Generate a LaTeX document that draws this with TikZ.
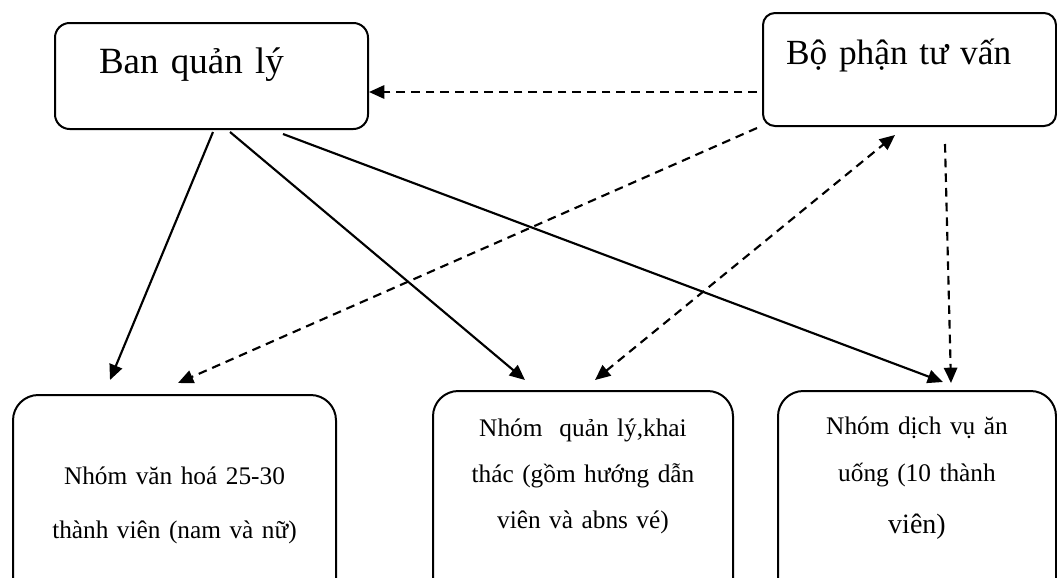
\documentclass[tikz,border=0pt]{standalone}
\usepackage{fontspec}
\setmainfont{Liberation Serif}
\usetikzlibrary{arrows.meta,calc}

\tikzset{
  box/.style={draw, line width=1.5pt, rounded corners=#1, anchor=north west, inner ysep=0pt},
  box/.default=10pt,
  link/.style={line width=1.6pt, -{Triangle[length=11.5pt,width=10pt]}},
  advice/.style={link, dash pattern=on 6.5pt off 4.5pt}
}

\begin{document}
\begin{tikzpicture}[x=0.75pt,y=-0.75pt]

    % frame of the page
    \useasboundingbox (0,0) rectangle (1057,578);
    \clip (0,0) rectangle (1057,578);

    % top boxes
    \node[box=11pt, minimum width=234.75pt, minimum height=79.5pt, inner xsep=33pt,
          text width=168.75pt, align=left, text height=20pt, text depth=24.5pt,
          font=\fontsize{27.75}{33}\selectfont] (bql) at (54,22) {Ban quản lý};
    \node[box=9pt, minimum width=219.75pt, minimum height=84.75pt, inner xsep=17.25pt,
          text width=185.25pt, align=left, text height=19pt, text depth=27.25pt,
          font=\fontsize{26.5}{32}\selectfont] (tuvan) at (762,12) {Bộ phận tư vấn};

    % bottom boxes
    \node[box=19pt, minimum width=242.25pt, minimum height=157.5pt, inner xsep=11pt,
          text width=220.25pt, align=center, text height=18pt, text depth=42pt,
          font=\fontsize{19}{40.5}\selectfont] (vanhoa) at (12,394)
          {Nhóm văn hoá 25-30\\ thành viên (nam và nữ)};
    \node[box=19pt, minimum width=225pt, minimum height=160.5pt, inner xsep=7.5pt,
          text width=210pt, align=center, text height=15pt, text depth=108pt,
          font=\fontsize{19}{34.5}\selectfont] (khaithac) at (432,390)
          {Nhóm~ quản lý,khai\\ thác (gồm hướng dẫn\\ viên và abns vé)};
    \node[box=19pt, minimum width=208.5pt, minimum height=160.5pt, inner xsep=6.75pt,
          text width=195pt, align=center, text height=15pt, text depth=111pt,
          font=\fontsize{19}{35.25}\selectfont] (anuong) at (777,390)
          {Nhóm dịch vụ ăn\\ uống (10 thành\\[3.75pt] {\fontsize{21}{35.25}\selectfont viên)}};

    % solid arrows from the management board
    \draw[link] ($(bql.south west)+(159,2)$) -- ($(vanhoa.north west)+(98,-14)$);
    \draw[link] ($(bql.south west)+(176,2)$) -- ($(khaithac.north west)+(93,-10)$);
    \draw[link] ($(bql.south west)+(229,4)$) -- ($(anuong.north west)+(166,-8)$);

    % dashed arrows of the advisory part
    \draw[advice] ($(tuvan.south west)+(-5,-35)$) -- ($(bql.south east)+(0,-38)$);
    \draw[advice] ($(tuvan.south west)+(-5,1)$) -- ($(vanhoa.north west)+(166,-11)$);
    \draw[advice, {Triangle[length=11.5pt,width=10pt]}-{Triangle[length=11.5pt,width=10pt]}]
      ($(khaithac.north west)+(163,-10)$) -- ($(tuvan.south west)+(133,8)$);
    \draw[advice] ($(tuvan.south west)+(183,17)$) -- ($(anuong.north west)+(174,-7)$);
  \end{tikzpicture}
\end{document}
